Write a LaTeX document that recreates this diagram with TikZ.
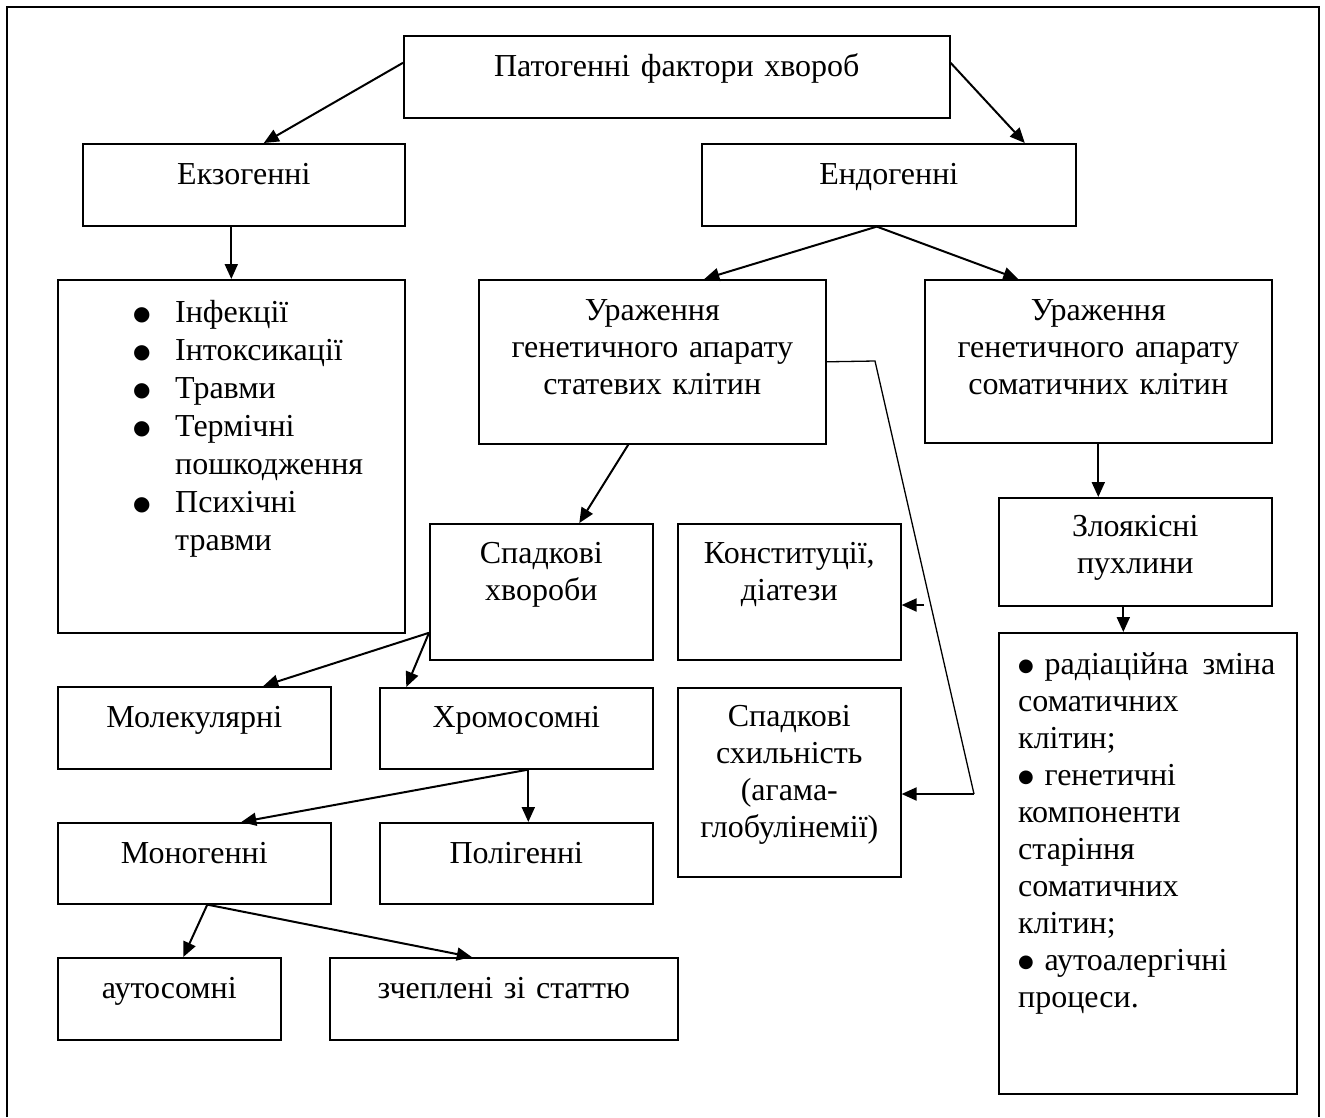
\documentclass[tikz,border=0pt]{standalone}
\usepackage{fontspec}
\setmainfont{Liberation Serif}
\newfontfamily\dotfont{DejaVu Sans}
\usetikzlibrary{arrows.meta}
\tikzset{
	% Boxes of the scheme, their texts and the arrows between them
	plain box/.style={rectangle,draw,line width=1.6pt,inner sep=0,anchor=north west},
	box text/.style={anchor=base,align=center,inner sep=0,text width=520pt,font=\fontsize{32}{37}\selectfont},
	list text/.style={anchor=base west,align=left,inner sep=0,font=\fontsize{32}{37}\selectfont},
	link/.style={line width=2pt,-{Triangle[length=15pt,width=13pt]}},
	thin link/.style={line width=1.3pt}
}
% big and small bullets of the two lists
\newcommand{\bigdot}{\makebox[42pt][l]{\raisebox{2pt}{\dotfont\fontsize{20}{20}\selectfont ●}}}
\newcommand{\smalldot}{\raisebox{3pt}{\dotfont\fontsize{18}{18}\selectfont ●}}

\begin{document}
\begin{tikzpicture}[x=1pt,y=-1pt]
	% macro for a box: name, left, top, width, height
	\newcommand{\boxat}[5]{\node(#1)[plain box,minimum width=#4pt,minimum height=#5pt]at(#2,#3){};}
	% macro for the text of a box, baseline below its top edge
	\newcommand{\boxtext}[3][41]{\node(#2-t)[box text]at([yshift=-#1pt]#2.north){#3};}
	
	\useasboundingbox (0,0) rectangle (1325,1117);
	\draw[line width=1.5pt] (7,1117) -- (7,7) -- (1319,7) -- (1319,1117);
	
	\boxat{0}{403}{35}{546}{82}
	\boxat{0-1}{82}{143}{322}{82}
	\boxat{0-2}{701}{143}{374}{82}
	\boxat{0-1-1}{57}{279}{347}{353}
	\boxat{0-2-1}{478}{279}{347}{164}
	\boxat{0-2-2}{924}{279}{347}{163}
	\boxat{0-2-1-1}{429}{523}{223}{136}
	\boxat{0-2-1-2}{677}{523}{223}{136}
	\boxat{0-2-1-3}{677}{687}{223}{189}
	\boxat{0-2-2-1}{998}{497}{273}{108}
	\boxat{0-2-2-1-1}{998}{632}{298}{461}
	\boxat{0-2-1-1-1}{57}{686}{273}{82}
	\boxat{0-2-1-1-2}{379}{687}{273}{81}
	\boxat{0-2-1-1-2-1}{57}{822}{273}{81}
	\boxat{0-2-1-1-2-2}{379}{822}{273}{81}
	\boxat{0-2-1-1-2-1-1}{57}{957}{223}{82}
	\boxat{0-2-1-1-2-1-2}{329}{957}{348}{82}
	
	\boxtext{0}{Патогенні фактори хвороб}
	\boxtext{0-1}{Екзогенні}
	\boxtext{0-2}{Ендогенні}
	\boxtext{0-2-1}{Ураження\\генетичного апарату\\статевих клітин}
	\boxtext{0-2-2}{Ураження\\генетичного апарату\\соматичних клітин}
	\boxtext[40]{0-2-1-1}{Спадкові\\хвороби}
	\boxtext[40]{0-2-1-2}{Конституції,\\діатези}
	\boxtext[39]{0-2-1-3}{Спадкові\\схильність\\(агама-\\глобулінемії)}
	\boxtext[39]{0-2-2-1}{Злоякісні\\пухлини}
	\boxtext{0-2-1-1-1}{Молекулярні}
	\boxtext[40]{0-2-1-1-2}{Хромосомні}
	\boxtext{0-2-1-1-2-1}{Моногенні}
	\boxtext{0-2-1-1-2-2}{Полігенні}
	\boxtext{0-2-1-1-2-1-1}{аутосомні}
	\boxtext{0-2-1-1-2-1-2}{зчеплені зі статтю}
	
	% bullet lists
	\node(0-1-1-t)[list text,text width=260pt,font=\fontsize{32}{38}\selectfont]
		at([xshift=76pt,yshift=-43pt]0-1-1.north west)
		{\bigdot Інфекції\\
		\bigdot Інтоксикації\\
		\bigdot Травми\\
		\bigdot Термічні\\
		\hspace*{42pt}пошкодження\\
		\bigdot Психічні\\
		\hspace*{42pt}травми};
	\node(0-2-2-1-1-t)[list text,text width=257pt]
		at([xshift=20pt,yshift=-42pt]0-2-2-1-1.north west)
		{\smalldot{} радіаційна\hfill зміна\\
		соматичних\\
		клітин;\\
		\smalldot{} генетичні\\
		компоненти\\
		старіння\\
		соматичних\\
		клітин;\\
		\smalldot{} аутоалергічні\\
		процеси.};
	
	% arrows
	\coordinate (tumor-out) at ([xshift=-12pt]0-2-2-1.south);
	\draw[link] ([yshift=14pt]0.west) -- ([xshift=20pt]0-1.north);
	\draw[link] ([yshift=14pt]0.east) -- ([xshift=136pt]0-2.north);
	\draw[link] (0-1.south -| 0-1-1.north) -- (0-1-1.north);
	\draw[link] ([xshift=-12pt]0-2.south) -- ([xshift=52pt]0-2-1.north);
	\draw[link] ([xshift=-12pt]0-2.south) -- ([xshift=-80pt]0-2-2.north);
	\draw[link] ([xshift=-24pt]0-2-1.south) -- ([xshift=38pt]0-2-1-1.north);
	\draw[link] (0-2-2.south) -- (0-2-2.south |- 0-2-2-1.north);
	\draw[link] (tumor-out) -- (tumor-out |- 0-2-2-1-1.north);
	\draw[link] ([yshift=-41pt]0-2-1-1.west) -- ([xshift=69pt]0-2-1-1-1.north);
	\draw[link] ([yshift=-41pt]0-2-1-1.west) -- ([xshift=-110pt]0-2-1-1-2.north);
	\draw[link] ([xshift=12pt]0-2-1-1-2.south) -- ([xshift=47pt]0-2-1-1-2-1.north);
	\draw[link] ([xshift=12pt]0-2-1-1-2.south) -- ([xshift=12pt]0-2-1-1-2-2.north);
	\draw[link] ([xshift=13pt]0-2-1-1-2-1.south) -- ([xshift=14pt]0-2-1-1-2-1-1.north);
	\draw[link] ([xshift=13pt]0-2-1-1-2-1.south) -- ([xshift=-32pt]0-2-1-1-2-1-2.north);
	
	% bent line from the germ cells box
	\coordinate (bend1) at (875,361);
	\coordinate (bend2) at (974,794);
	\coordinate (stub) at (924,605);
	\draw[thin link] (0-2-1.east) -- (bend1) -- (bend2);
	\draw[link] (bend2) -- (bend2 -| 0-2-1-3.east);
	\draw[link] (stub) -- (stub -| 0-2-1-2.east);
\end{tikzpicture}
\end{document}
